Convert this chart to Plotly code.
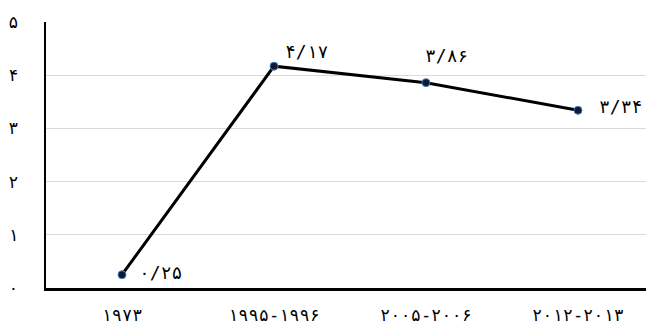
import plotly.graph_objects as go

categories = ["۱۹۷۳", "۱۹۹۵-۱۹۹۶", "۲۰۰۵-۲۰۰۶", "۲۰۱۲-۲۰۱۳"]
values = [0.25, 4.17, 3.86, 3.34]
value_labels = ["۰/۲۵", "۴/۱۷", "۳/۸۶", "۳/۳۴"]
y_ticks = [0, 1, 2, 3, 4, 5]
y_tick_labels = ["۰", "۱", "۲", "۳", "۴", "۵"]

FONT = "DejaVu Sans Mono, DejaVu Sans"

fig = go.Figure()
fig.add_trace(go.Scatter(
    x=list(range(len(categories))), y=values, mode="lines+markers",
    line=dict(color="black", width=3),
    marker=dict(size=8, color="#0b1a3a", line=dict(color="#4a7fc0", width=1)),
    hoverinfo="skip", showlegend=False, cliponaxis=False,
))

offsets = [(38, 2), (32, 15), (20, 27), (42, 4)]
for i, (v, lab) in enumerate(zip(values, value_labels)):
    dx, dy = offsets[i]
    fig.add_annotation(x=i, y=v, xref="x", yref="y", text=lab, showarrow=False,
                       xshift=dx, yshift=dy, font=dict(family=FONT, size=18, color="black"))

# page body has an 8px margin, so the figure is sized to end at the window edge
fig.update_layout(
    width=646, height=317,
    margin=dict(l=34, r=0, t=14, b=30),
    plot_bgcolor="white", paper_bgcolor="white",
    font=dict(family=FONT, size=17, color="black"),
)
fig.update_xaxes(
    range=[-0.5, 3.5], tickvals=list(range(len(categories))), ticktext=categories,
    showgrid=False, showline=True, linecolor="black", linewidth=3,
    ticks="", ticklabelstandoff=10, zeroline=False,
)
fig.update_yaxes(
    range=[0, 5], tickvals=y_ticks, ticktext=y_tick_labels,
    showgrid=True, gridcolor="#d9d9d9", gridwidth=1,
    showline=True, linecolor="black", linewidth=2, ticks="",
    ticklabelstandoff=22, zeroline=False,
)
fig.write_html("out.html")
